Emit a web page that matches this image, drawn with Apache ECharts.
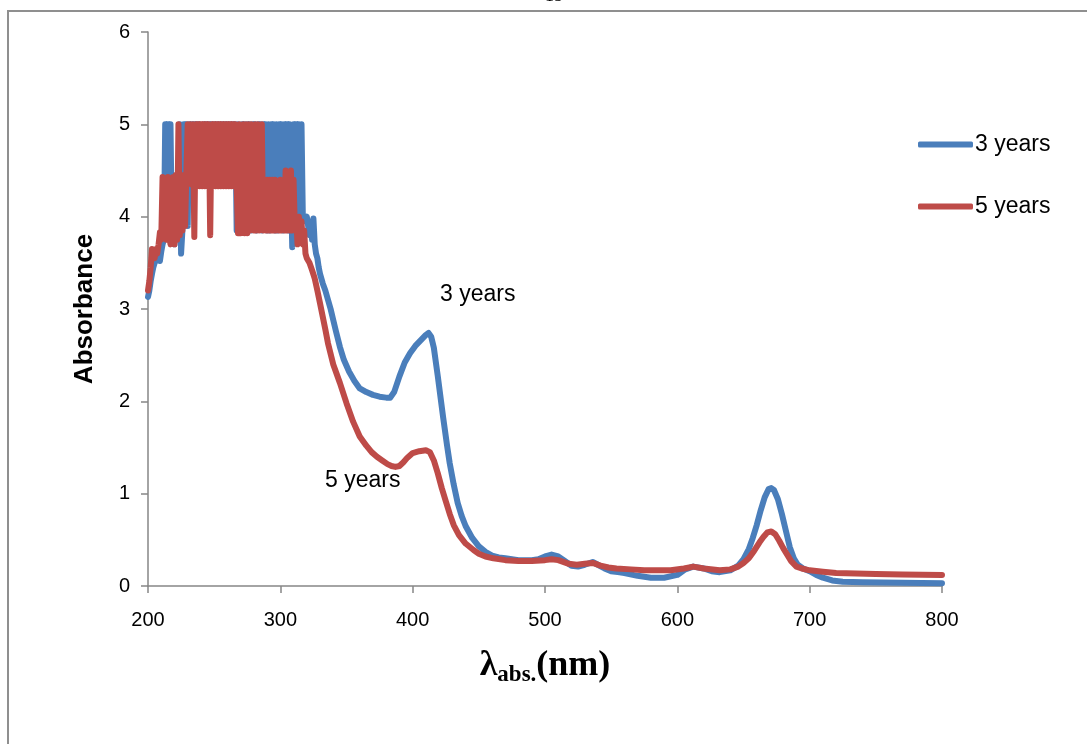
<!DOCTYPE html>
<html>
<head>
<meta charset="utf-8">
<script src="https://cdn.jsdelivr.net/npm/echarts@6/dist/echarts.min.js"></script>
<style>
html,body{margin:0;padding:0;background:#fff;}
#chart{width:1087px;height:744px;}
</style>
</head>
<body>
<div id="chart"></div>
<script>
// ---- data ----
const seriesNames = ['3 years', '5 years'];
const xTickValues = [200, 300, 400, 500, 600, 700, 800];
const yTickValues = [0, 1, 2, 3, 4, 5, 6];

// saturated (noisy) region, sampled every 1 nm starting at noiseStart
const noiseStart = 200;
const noise3 = [
  3.13,3.2,3.3,3.38,3.45,3.5,3.48,3.55,3.6,3.52,
  3.62,3.7,3.75,5,3.8,5,4.4,5,3.85,4.4,
  3.7,3.85,4.45,3.8,5,3.6,3.85,5,4.35,5,
  3.9,5,4.35,5,4.35,5,4.35,5,4.35,5,
  5,4.35,5,4.35,5,4.35,5,4.35,5,4.35,
  5,4.35,5,4.35,5,4.35,5,4.35,5,4.35,
  5,4.35,5,4.35,5,4.35,5,3.85,5,3.85,
  4.35,5,4.35,5,3.85,5,4.35,5,3.85,5,
  4.35,5,3.85,5,4.35,5,3.85,5,4.35,5,
  3.85,5,3.85,5,4.35,5,3.85,5,3.85,5,
  4.35,5,3.85,5,3.9,5,3.85,5,4.35,3.67,
  5,3.9,5,4.4,5,3.8,5,4.0,3.98,3.95,
  4.0,3.98,3.8,3.95,3.75,3.98,3.7,3.6,3.55,3.45,
  3.38
];
const tail3 = [
  [332,3.28],[334,3.2],[336,3.1],[338,3.0],[340,2.88],[342,2.76],[345,2.59],[348,2.45],
  [352,2.32],[356,2.22],[360,2.14],[365,2.1],[370,2.07],[375,2.05],[380,2.04],[383,2.04],
  [386,2.1],[390,2.27],[394,2.42],[398,2.52],[402,2.6],[406,2.66],[410,2.72],[412,2.74],
  [414,2.7],[416,2.58],[419,2.27],[423,1.83],[426,1.52],[428,1.33],[431,1.1],[434,0.9],
  [437,0.76],[440,0.65],[445,0.52],[450,0.43],[455,0.37],[460,0.33],[465,0.31],[470,0.3],
  [480,0.28],[490,0.28],[495,0.29],[500,0.32],[505,0.34],[510,0.32],[515,0.27],[520,0.22],
  [525,0.21],[530,0.23],[536,0.26],[540,0.23],[545,0.19],[550,0.16],[555,0.15],[560,0.14],
  [570,0.11],[580,0.09],[590,0.09],[600,0.12],[606,0.18],[612,0.21],[620,0.19],[626,0.16],
  [632,0.15],[640,0.17],[646,0.22],[650,0.29],[654,0.4],[657,0.52],[660,0.66],[663,0.82],
  [666,0.96],[669,1.05],[671,1.06],[673,1.04],[676,0.94],[679,0.78],[682,0.6],[685,0.42],
  [688,0.3],[691,0.23],[695,0.19],[700,0.16],[705,0.12],[710,0.09],[717,0.06],[725,0.045],
  [740,0.04],[770,0.035],[800,0.03]
];
const noise5 = [
  3.2,3.3,3.45,3.65,3.6,3.55,3.65,3.6,3.7,3.83,
  3.75,4.43,3.8,3.85,3.75,4.43,3.8,3.7,3.9,4.43,
  3.7,4.45,3.75,5,3.8,4.4,3.85,4.45,3.9,4.45,
  5,4.4,5,4.35,5,3.78,5,4.35,5,4.33,
  5,4.33,5,4.33,5,4.33,5,3.8,5,4.33,
  5,4.33,5,4.33,5,4.33,5,4.33,5,4.33,
  5,4.33,5,4.33,5,4.33,5,4.33,3.82,5,
  3.82,4.35,5,3.82,5,3.82,5,3.85,5,4.35,
  3.85,5,3.85,5,3.85,4.35,5,3.85,4.4,3.85,
  4.4,3.85,4.4,3.85,4.4,3.85,4.4,3.85,4.0,3.85,
  4.4,3.85,4.0,3.85,4.5,3.85,4.4,3.85,4.5,3.85,
  4.4,3.85,4.0,3.7,4.0,3.8,3.95,3.7,3.85,3.6,
  3.55
];
const tail5 = [
  [322,3.5],[324,3.42],[326,3.33],[328,3.2],[330,3.06],[332,2.92],[334,2.78],[336,2.63],
  [340,2.4],[345,2.2],[350,1.98],[355,1.78],[360,1.62],[365,1.52],[369,1.45],[373,1.4],
  [377,1.36],[381,1.32],[384,1.3],[387,1.29],[390,1.3],[393,1.34],[396,1.39],[400,1.44],
  [405,1.46],[410,1.47],[413,1.45],[416,1.36],[419,1.22],[422,1.06],[425,0.92],[428,0.78],
  [431,0.66],[435,0.55],[440,0.46],[446,0.39],[450,0.35],[455,0.32],[461,0.3],[470,0.28],
  [480,0.27],[490,0.27],[500,0.28],[505,0.29],[510,0.28],[518,0.24],[524,0.23],[530,0.24],
  [536,0.25],[542,0.22],[548,0.2],[554,0.19],[565,0.18],[575,0.17],[585,0.17],[595,0.17],
  [605,0.19],[612,0.21],[620,0.19],[632,0.17],[640,0.18],[646,0.21],[650,0.25],[654,0.3],
  [658,0.38],[662,0.47],[665,0.53],[668,0.58],[671,0.59],[674,0.56],[677,0.49],[680,0.41],
  [683,0.34],[686,0.27],[690,0.21],[694,0.19],[700,0.17],[710,0.155],[720,0.14],[735,0.135],
  [750,0.13],[770,0.125],[800,0.12]
];

function buildSeries(noise, tail) {
  return noise.map((v, i) => [noiseStart + i, v]).concat(tail);
}

// ---- chart ----
const FONT = "'Liberation Sans', Arial, sans-serif";
const SERIF = "'Liberation Serif', 'Times New Roman', serif";
const AXIS_GRAY = '#868686';
const BLUE = '#4A7EBB';
const RED = '#BE4B48';

const chart = echarts.init(document.getElementById('chart'), null, {renderer: 'canvas'});
chart.setOption({
  animation: false,
  backgroundColor: '#fff',
  grid: {left: 148, right: 145, top: 32, bottom: 158, containLabel: false},
  legend: {
    orient: 'vertical',
    left: 913,
    top: 128,
    icon: 'roundRect',
    itemWidth: 55,
    itemHeight: 6,
    itemGap: 39,
    textStyle: {fontFamily: FONT, fontSize: 23, color: '#000', padding: [0, 0, 0, -3]},
    data: seriesNames
  },
  xAxis: {
    type: 'value',
    min: xTickValues[0],
    max: xTickValues[xTickValues.length - 1],
    interval: 100,
    name: '{l|λ}{s|abs.}{p|(nm)}',
    nameLocation: 'middle',
    nameGap: 62,
    nameTextStyle: {
      rich: {
        l: {fontFamily: SERIF, fontWeight: 'bold', fontSize: 36, color: '#000', lineHeight: 36, verticalAlign: 'top'},
        s: {fontFamily: SERIF, fontWeight: 'bold', fontSize: 23, color: '#000', lineHeight: 24, verticalAlign: 'top', padding: [16, 0, 0, 0]},
        p: {fontFamily: SERIF, fontWeight: 'bold', fontSize: 36, color: '#000', lineHeight: 36, verticalAlign: 'top'}
      }
    },
    axisLine: {show: true, onZero: false, lineStyle: {color: AXIS_GRAY, width: 1.5}},
    axisTick: {show: true, length: 7, lineStyle: {color: AXIS_GRAY, width: 1.5}},
    splitLine: {show: false},
    axisLabel: {fontFamily: FONT, fontSize: 20, color: '#000', margin: 24}
  },
  yAxis: {
    type: 'value',
    min: yTickValues[0],
    max: yTickValues[yTickValues.length - 1],
    interval: 1,
    name: 'Absorbance',
    nameLocation: 'middle',
    nameGap: 50,
    nameTextStyle: {fontFamily: FONT, fontWeight: 'bold', fontSize: 26, color: '#000'},
    axisLine: {show: true, lineStyle: {color: AXIS_GRAY, width: 1.5}},
    axisTick: {show: true, length: 7, lineStyle: {color: AXIS_GRAY, width: 1.5}},
    splitLine: {show: false},
    axisLabel: {fontFamily: FONT, fontSize: 20, color: '#000', margin: 18}
  },
  series: [
    {
      name: seriesNames[0], type: 'line', data: buildSeries(noise3, tail3),
      showSymbol: false, symbol: 'none', smooth: false,
      lineStyle: {color: BLUE, width: 6, cap: 'round', join: 'round'},
      itemStyle: {color: BLUE}
    },
    {
      name: seriesNames[1], type: 'line', data: buildSeries(noise5, tail5),
      showSymbol: false, symbol: 'none', smooth: false,
      lineStyle: {color: RED, width: 6, cap: 'round', join: 'round'},
      itemStyle: {color: RED}
    }
  ],
  graphic: [
    {type: 'rect', z: -10, silent: true, shape: {x: 8, y: 11, width: 1200, height: 1000},
     style: {fill: 'none', stroke: '#8f8f8f', lineWidth: 2}},
    {type: 'text', left: 545, top: -13, silent: true,
     style: {text: '15', font: "18px " + SERIF, fill: '#000'}},
    {type: 'text', left: 440, top: 283, silent: true,
     style: {text: '3 years', font: "23px " + FONT, fill: '#000'}},
    {type: 'text', left: 325, top: 469, silent: true,
     style: {text: '5 years', font: "23px " + FONT, fill: '#000'}}
  ]
});
</script>
</body>
</html>
